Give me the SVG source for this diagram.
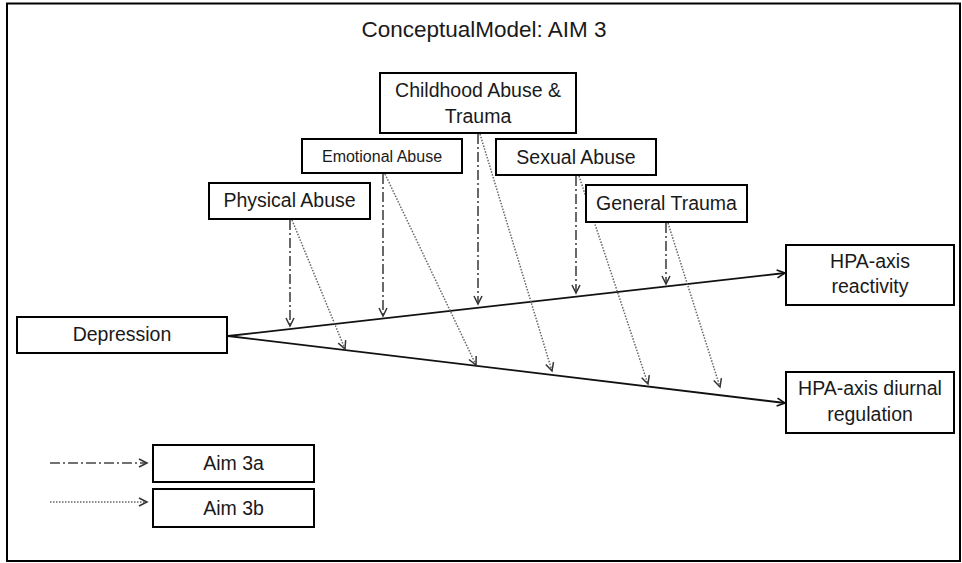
<svg xmlns="http://www.w3.org/2000/svg" width="962" height="563" viewBox="0 0 962 563">
<style>
  .box { fill: #fff; stroke: #000; stroke-width: 2; }
  .lbl { font-family: "Liberation Sans", Arial, sans-serif; font-size: 19.5px; fill: #1a1a1a; text-anchor: middle; }
  .small { font-size: 16px; }
  .title { font-size: 22.5px; }
  .main { stroke: #111; stroke-width: 1.8; fill: none; marker-end: url(#open); }
  .a3a { stroke: #444; stroke-width: 1.6; fill: none; stroke-dasharray: 10 3 2 3; marker-end: url(#openS); }
  .a3b { stroke: #666; stroke-width: 1.5; fill: none; stroke-dasharray: 1.5 1.5; marker-end: url(#openS); }
</style>
<defs>
  <marker id="open" markerUnits="userSpaceOnUse" markerWidth="12" markerHeight="12" refX="9" refY="5" orient="auto">
    <path d="M1,1 L9,5 L1,9" fill="none" stroke="#111" stroke-width="1.6"/>
  </marker>
  <marker id="openS" markerUnits="userSpaceOnUse" markerWidth="12" markerHeight="12" refX="9" refY="5" orient="auto">
    <path d="M1,1 L9,5 L1,9" fill="none" stroke="#333" stroke-width="1.5"/>
  </marker>
</defs>
<rect x="0" y="0" width="962" height="563" fill="#fff"/>
<rect x="7" y="3.5" width="953" height="557.5" fill="none" stroke="#000" stroke-width="2"/>
<text class="lbl title" x="484" y="37">ConceptualModel: AIM 3</text>

<g id="connectors">
  <path class="main" d="M228,336 L785,273"/>
  <path class="main" d="M228,336 L785,403"/>
  <path class="a3a" d="M290,220 L290,326"/>
  <path class="a3a" d="M383,174 L383,316"/>
  <path class="a3a" d="M478,134 L478,304"/>
  <path class="a3a" d="M576,176 L576,293"/>
  <path class="a3a" d="M666,223 L666,284"/>
  <path class="a3b" d="M292,220 L345,349"/>
  <path class="a3b" d="M385,174 L476,365"/>
  <path class="a3b" d="M480,134 L552,371"/>
  <path class="a3b" d="M579,176 L648,384"/>
  <path class="a3b" d="M668,223 L720,387"/>
  <path class="a3a" d="M50,463 L147,463"/>
  <path class="a3b" d="M50,502 L147,502"/>
</g>

<g id="childhood">
  <rect class="box" x="380" y="73" width="196" height="60"/>
  <text class="lbl" x="478" y="97">Childhood Abuse &amp;</text>
  <text class="lbl" x="478" y="123">Trauma</text>
</g>
<g id="emotional">
  <rect class="box" x="302" y="139" width="160" height="34"/>
  <text class="lbl small" x="382" y="162">Emotional  Abuse</text>
</g>
<g id="physical">
  <rect class="box" x="209" y="183" width="161" height="36"/>
  <text class="lbl" x="289.5" y="207">Physical Abuse</text>
</g>
<g id="sexual">
  <rect class="box" x="496" y="139" width="160" height="36"/>
  <text class="lbl" x="576" y="164">Sexual Abuse</text>
</g>
<g id="general">
  <rect class="box" x="586" y="185" width="161" height="37"/>
  <text class="lbl" x="666.5" y="210">General Trauma</text>
</g>
<g id="depression">
  <rect class="box" x="17" y="317" width="210" height="36"/>
  <text class="lbl" x="122" y="341">Depression</text>
</g>
<g id="hpa-reactivity">
  <rect class="box" x="786" y="245" width="168" height="60"/>
  <text class="lbl" x="870" y="268">HPA-axis</text>
  <text class="lbl" x="870" y="293">reactivity</text>
</g>
<g id="hpa-diurnal">
  <rect class="box" x="786" y="372" width="168" height="61"/>
  <text class="lbl" x="870" y="395">HPA-axis diurnal</text>
  <text class="lbl" x="870" y="421">regulation</text>
</g>
<g id="aim3a">
  <rect class="box" x="153" y="445" width="161" height="37"/>
  <text class="lbl" x="233.5" y="470">Aim 3a</text>
</g>
<g id="aim3b">
  <rect class="box" x="153" y="489" width="161" height="38"/>
  <text class="lbl" x="233.5" y="515">Aim 3b</text>
</g>
</svg>
